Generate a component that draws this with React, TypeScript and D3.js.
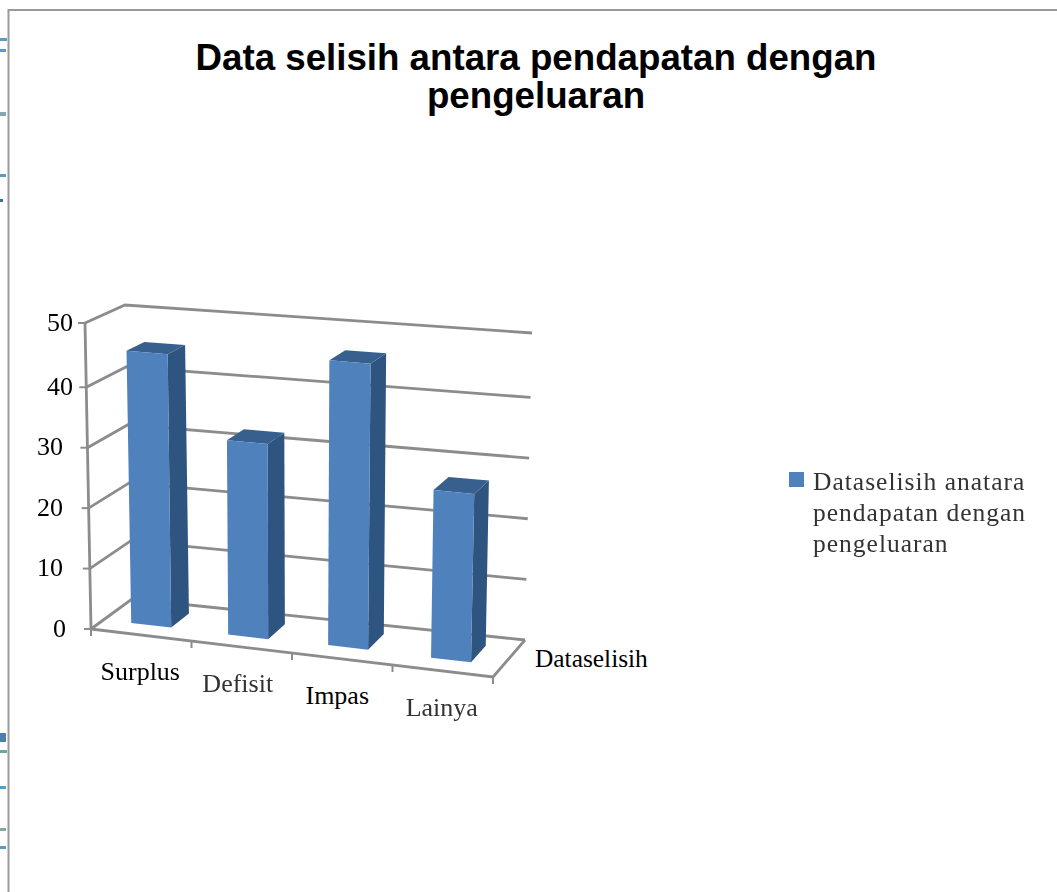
import React from "react";
import * as d3 from "d3";

const categories = ["Surplus", "Defisit", "Impas", "Lainya"];
const values = [45, 32, 46, 27];
const ticks = [0, 10, 20, 30, 40, 50];
const titleLines = ["Data selisih antara pendapatan dengan", "pengeluaran"];
const legendLines = ["Dataselisih anatara", "pendapatan dengan", "pengeluaran"];
const depthLabel = "Dataselisih";

// offsets that the source picture has (it is a pasted, resampled image)
const tickRight = [66, 63, 63, 63, 73, 73];
const softLabels = [false, true, false, true];
const labelNudge: [number, number][] = [[0, 0], [-3, 0], [-4, 0], [0, 0]];
const barNudge: [number, number][] = [[0, -2], [-3, -2], [-3, -3], [0, -2]];

type P = [number, number];
// projected corners of the 3-D box
const floorFL: P = [91, 629], floorFR: P = [493, 677], floorBL: P = [132, 599], floorBR: P = [525, 640];
const topFL: P = [85, 323], topFR: P = [500, 357], topBL: P = [125, 305], topBR: P = [532, 333];

const lerp = (a: P, b: P, t: number): P => [a[0] + (b[0] - a[0]) * t, a[1] + (b[1] - a[1]) * t];
const project = (u: number, d: number, h: number): P => {
  const floor = lerp(lerp(floorFL, floorFR, u), lerp(floorBL, floorBR, u), d);
  const top = lerp(lerp(topFL, topFR, u), lerp(topBL, topBR, u), d);
  return lerp(floor, top, h);
};

const xBand = d3.scaleBand<string>().domain(categories).range([0, 1]).paddingInner(0.6).paddingOuter(0.3);
const yVal = d3.scaleLinear().domain([0, 40, 50]).range([0, 0.79, 1]);
const catEdge = d3.scaleLinear().domain([0, categories.length]).range([0, 1]);
const D0 = 0.25, D1 = 0.7;

const line = d3.line<P>();
const poly = (pts: P[]) => line(pts) + "Z";

const GRID = "#8c8c8c";
const FRONT = "#4f81bd", SIDE = "#2f5480", TOP = "#38618f";
const serif = "'Liberation Serif', serif";
const sans = "'Liberation Sans', Arial, sans-serif";

// fragments of clipped page text at the left edge of the source picture
const edgeMarks: [number, number, number, string][] = [
  [38, 7, 3, "#5a9ac8"], [49, 6, 3, "#5a9ac8"], [112, 6, 4, "#8aa4b4"], [174, 6, 3, "#5a9ac8"],
  [199, 3, 3, "#3a6f98"], [733, 6, 9, "#4b7fb0"], [750, 7, 3, "#6fa5a0"], [786, 6, 3, "#5a9ac8"],
  [828, 6, 3, "#7fa8a8"], [846, 6, 3, "#5a9ac8"],
];

export default function App() {
  return (
    <svg width={1057} height={892} style={{ position: "absolute", left: 0, top: 0, background: "#fff" }}>
      <defs>
        <filter id="soft" x="-5%" y="-5%" width="110%" height="110%"><feGaussianBlur stdDeviation="0.7" /></filter>
        <filter id="softer" x="-5%" y="-20%" width="110%" height="140%"><feGaussianBlur stdDeviation="0.6" /></filter>
      </defs>
      <g filter="url(#soft)">
        {edgeMarks.map(([y, w, h, c], i) => <rect key={i} x={0} y={y} width={w} height={h} fill={c} />)}
      </g>
      <path d="M1057,10H8.5V892" fill="none" stroke="#9a9a9a" strokeWidth={2} />

      <g fontFamily={sans} fontWeight={700} fontSize={36.7} textAnchor="middle" fill="#000">
        {titleLines.map((t, i) => <text key={t} x={536} y={70 + i * 38}>{t}</text>)}
      </g>

      <g filter="url(#soft)" fill="none" stroke={GRID} strokeWidth={2.8}>
        {ticks.map((t) => {
          const h = yVal(t);
          return <path key={t} d={line([project(0, 0, h), project(0, 1, h), project(1, 1, h)])!} />;
        })}
        <path d={line([project(0, 0, 0), project(0, 0, 1)])!} />
        {ticks.map((t) => {
          const p = project(0, 0, yVal(t));
          return <path key={t} d={line([p, [p[0] - 7, p[1]]])!} strokeWidth={2} />;
        })}
        <path d={line([project(0, 0, 0), project(1, 0, 0), project(1, 1, 0)])!} />
        {d3.range(categories.length + 1).map((i) => {
          const p = project(catEdge(i), 0, 0);
          return <path key={i} d={line([p, [p[0], p[1] + 7]])!} strokeWidth={2} />;
        })}
      </g>

      <g filter="url(#soft)">
        {categories.map((c, i) => {
          const u0 = xBand(c)!, u1 = u0 + xBand.bandwidth(), h = yVal(values[i]);
          return (
            <g key={c} transform={`translate(${barNudge[i][0]},${barNudge[i][1]})`}>
              <path fill={SIDE} d={poly([project(u1, D0, 0), project(u1, D1, 0), project(u1, D1, h), project(u1, D0, h)])} />
              <path fill={TOP} d={poly([project(u0, D0, h), project(u1, D0, h), project(u1, D1, h), project(u0, D1, h)])} />
              <path fill={FRONT} d={poly([project(u0, D0, 0), project(u1, D0, 0), project(u1, D0, h), project(u0, D0, h)])} />
            </g>
          );
        })}
      </g>

      <g fontFamily={serif} fontSize={26} fill="#000">
        {ticks.map((t, i) => (
          <text key={t} x={tickRight[i]} y={project(0, 0, yVal(t))[1] + 7.5} textAnchor="end">{t}</text>
        ))}
        {categories.map((c, i) => {
          const p = project(xBand(c)! + xBand.bandwidth() / 2, 0, 0);
          return (
            <text key={c} x={p[0] - 1 + labelNudge[i][0]} y={p[1] + 45 + labelNudge[i][1]} textAnchor="middle"
              filter={softLabels[i] ? "url(#softer)" : undefined} fill={softLabels[i] ? "#333" : "#000"}>{c}</text>
          );
        })}
        <text x={535} y={667} fontSize={25.4}>{depthLabel}</text>
      </g>

      <rect x={789} y={472} width={15} height={15} fill={FRONT} />
      <g fontFamily={serif} fontSize={25.5} letterSpacing={1} fill="#333" filter="url(#softer)">
        {legendLines.map((t, i) => <text key={t} x={813} y={490 + i * 31}>{t}</text>)}
      </g>
    </svg>
  );
}
